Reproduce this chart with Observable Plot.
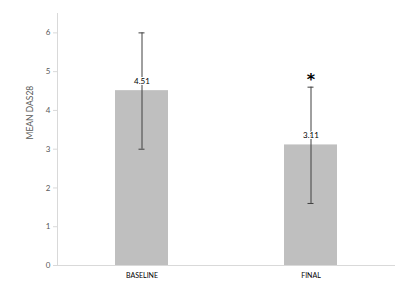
<!DOCTYPE html>
<html><head><meta charset="utf-8">
<script src="https://cdn.jsdelivr.net/npm/d3@7"></script>
<script src="https://cdn.jsdelivr.net/npm/@observablehq/plot@0.6"></script>
<style>body{margin:0;background:#fff}</style>
</head><body><div id="chart"></div>
<script>
const categories = ["BASELINE", "FINAL"];
const means = [4.51, 3.11];
const lows = [3.0, 1.6];
const highs = [6.0, 4.6];
const marks = ["", "*"];
const yTicks = [0, 1, 2, 3, 4, 5, 6];

const data = categories.map((c, i) => ({cat: c, v: means[i], lo: lows[i], hi: highs[i], m: marks[i]}));
const font = "Lato, 'Open Sans', sans-serif";

const plot = Plot.plot({
  width: 406, height: 290,
  marginLeft: 57, marginRight: 11, marginTop: 13, marginBottom: 25,
  style: {fontFamily: font, background: "#fff"},
  x: {domain: categories, paddingInner: 0.686, paddingOuter: 0.343, label: null, axis: null},
  y: {domain: [0, 6.5], axis: null},
  marks: [
    Plot.barY(data, {x: "cat", y: "v", fill: "#bfbfbf"}),
    Plot.ruleY([0], {stroke: "#d9d9d9"}),
    Plot.frame({anchor: "left", stroke: "#d9d9d9"}),
    Plot.axisY({ticks: yTicks, tickFormat: "d", tickSize: 4, tickPadding: 3, stroke: "#d9d9d9", fill: "#595959", fontSize: 8, label: null}),
    Plot.axisX({tickSize: 0, tickPadding: 8, fill: "#000", fontSize: 7, label: null}),
    Plot.text(["MEAN DAS28"], {frameAnchor: "left", dx: -27, rotate: -90, fontSize: 8.5, fill: "#595959"}),
    Plot.ruleX(data, {x: "cat", y1: "lo", y2: "hi", stroke: "#404040", strokeWidth: 1}),
    Plot.tickY(data, {x: "cat", y: "lo", stroke: "#404040", insetLeft: 23.5, insetRight: 23.5}),
    Plot.tickY(data, {x: "cat", y: "hi", stroke: "#404040", insetLeft: 23.5, insetRight: 23.5}),
    Plot.text(data, {x: "cat", y: "v", text: d => d.v.toFixed(2), dy: -9, fontSize: 8, fill: "#000", stroke: "#fff", strokeWidth: 2}),
    Plot.text(data, {x: "cat", y: "hi", text: "m", dy: -7, fontSize: 16, fontWeight: "bold", fill: "#000", fontFamily: "'DejaVu Sans', sans-serif"})
  ]
});
document.getElementById("chart").appendChild(plot);
</script></body></html>
